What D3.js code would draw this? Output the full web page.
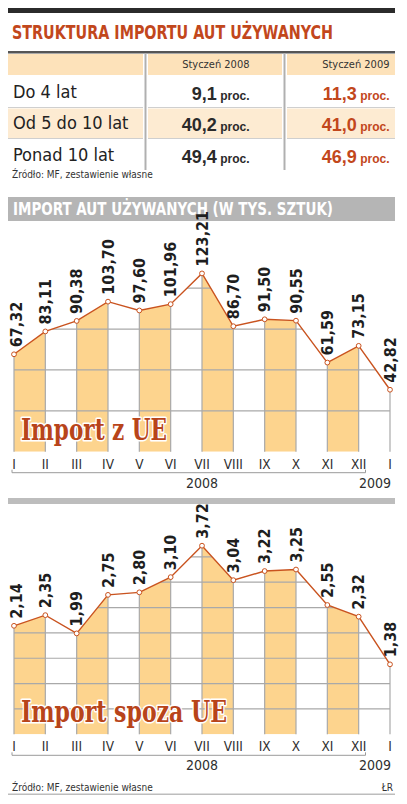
<!DOCTYPE html>
<html><head><meta charset="utf-8">
<script src="https://cdn.jsdelivr.net/npm/d3@7"></script>
<style>body{margin:0;background:#fff}svg{display:block}</style>
</head><body>
<script>
// ---- data ----
const months = ["I","II","III","IV","V","VI","VII","VIII","IX","X","XI","XII","I"];
const euValues = [67.32,83.11,90.38,103.70,97.60,101.96,123.21,86.70,91.50,90.55,61.59,73.15,42.82];
const nonEuValues = [2.14,2.35,1.99,2.75,2.80,3.10,3.72,3.04,3.22,3.25,2.55,2.32,1.38];
const euGrid = [28.25,56.5,84.75,113];
const nonEuGrid = [0.5,1,1.5,2,2.5,3,3.5];
const tableRows = ["Do 4 lat","Od 5 do 10 lat","Ponad 10 lat"];
const tableCols = ["Styczeń 2008","Styczeń 2009"];
const share2008 = ["9,1","40,2","49,4"];
const share2009 = ["11,3","41,0","46,9"];

const W = 407, H = 804;
const NARROW = "'Liberation Sans Narrow','DejaVu Sans Condensed',sans-serif";
const SANS = "'Liberation Sans',Arial,sans-serif";
const SERIF = "'DejaVu Serif Condensed','DejaVu Serif',serif";
const RED = "#c2471c", ORANGE = "#fdd48e", LINE = "#c9531f", GRID = "#a9a9a9";

const svg = d3.select("body").append("svg").attr("width", W).attr("height", H);

// ---- top header ----
svg.append("rect").attr("x",8).attr("y",8).attr("width",387).attr("height",5).attr("fill","#2b2b2b");
svg.append("text").attr("x",12).attr("y",39).text("STRUKTURA IMPORTU AUT UŻYWANYCH")
  .attr("font-family",NARROW).attr("font-weight","bold").attr("font-size",19.5).attr("fill",RED)
  .attr("textLength",321).attr("lengthAdjust","spacingAndGlyphs");

// ---- table ----
const cols = [{x0:8,x1:143},{x0:148,x1:282},{x0:287,x1:395}];
svg.append("rect").attr("x",8).attr("y",51).attr("width",387).attr("height",2.5).attr("fill","#555");
cols.forEach(c=>{
  svg.append("rect").attr("x",c.x0).attr("y",54).attr("width",c.x1-c.x0).attr("height",21).attr("fill","#fde2ba");
  svg.append("rect").attr("x",c.x0).attr("y",108.5).attr("width",c.x1-c.x0).attr("height",29.5).attr("fill","#fdebd2");
  [107.5,138.5].forEach(yy=>svg.append("line").attr("x1",c.x0).attr("x2",c.x1).attr("y1",yy).attr("y2",yy).attr("stroke","#cfcfcf").attr("stroke-width",1));
});
[145.5,284.5].forEach(xx=>svg.append("line").attr("x1",xx).attr("x2",xx).attr("y1",53).attr("y2",170).attr("stroke","#b0b0b0").attr("stroke-width",2));
const colRight = [249.5,389.5];
tableCols.forEach((t,i)=>svg.append("text").attr("x",colRight[i]).attr("y",68).attr("text-anchor","end")
  .attr("font-family",NARROW).attr("font-size",11).attr("fill","#333").text(t));
const rowBase = [97.5,129.3,160.7];
tableRows.forEach((r,i)=>{
  svg.append("text").attr("x",13).attr("y",rowBase[i]).text(r)
    .attr("font-family",NARROW).attr("font-size",18).attr("fill","#222");
  [share2008,share2009].forEach((arr,j)=>{
    const t = svg.append("text").attr("x",colRight[j]).attr("y",rowBase[i]+2).attr("text-anchor","end")
      .attr("font-family",SANS).attr("font-weight","bold").attr("fill", j===0?"#2a2a2a":RED);
    t.append("tspan").attr("font-size",18).text(arr[i]);
    t.append("tspan").attr("font-size",12).text(" proc.");
  });
});
svg.append("text").attr("x",12).attr("y",177.7).text("Źródło: MF, zestawienie własne")
  .attr("font-family",NARROW).attr("font-size",10).attr("fill","#333");

// ---- chart section header ----
svg.append("rect").attr("x",8).attr("y",197).attr("width",387).attr("height",24).attr("fill","#b5b5b5");
svg.append("text").attr("x",13).attr("y",215).text("IMPORT AUT UŻYWANYCH (W TYS. SZTUK)")
  .attr("font-family",NARROW).attr("font-weight","bold").attr("font-size",17).attr("fill","#fff")
  .attr("textLength",320).attr("lengthAdjust","spacingAndGlyphs");

const x = d3.scalePoint().domain(d3.range(months.length)).range([14,390]);

function drawChart(id, values, grid, yMax, base, pxPerUnit, title, titleLen){
  const y = d3.scaleLinear().domain([0,yMax]).range([base, base - yMax*pxPerUnit]);
  const g = svg.append("g");
  const area = d3.area().x((d,i)=>x(i)).y0(base).y1(d=>y(d));
  g.append("clipPath").attr("id",id).append("path").attr("d",area(values));
  const inner = g.append("g").attr("clip-path",`url(#${id})`);
  d3.range(0,values.length-1,2).forEach(i=>{
    inner.append("rect").attr("x",x(i)).attr("width",x(i+1)-x(i))
      .attr("y",y(yMax)).attr("height",base-y(yMax)).attr("fill",ORANGE);
  });
  grid.forEach(v=>inner.append("line").attr("x1",x(0)).attr("x2",x(values.length-1))
    .attr("y1",y(v)).attr("y2",y(v)).attr("stroke",GRID).attr("stroke-width",1.2));
  values.forEach((v,i)=>g.append("line").attr("x1",x(i)).attr("x2",x(i)).attr("y1",base).attr("y2",y(v))
    .attr("stroke",GRID).attr("stroke-width",1.2));
  // big title
  g.append("text").attr("x",21).attr("y",base-12).text(title)
    .attr("font-family",SERIF).attr("font-weight","bold").attr("font-size",29)
    .attr("fill","#b8441a").attr("stroke","#fff").attr("stroke-width",3).attr("paint-order","stroke")
    .attr("stroke-linejoin","round")
    .attr("textLength",titleLen).attr("lengthAdjust","spacingAndGlyphs");
  // line
  g.append("path").attr("d",d3.line().x((d,i)=>x(i)).y(d=>y(d))(values))
    .attr("fill","none").attr("stroke",LINE).attr("stroke-width",1.4);
  g.selectAll("circle.p").data(values).join("circle").attr("cx",(d,i)=>x(i)).attr("cy",d=>y(d))
    .attr("r",2.4).attr("fill","#fff").attr("stroke",LINE).attr("stroke-width",1);
  // value labels
  const fmt = v => v.toFixed(2).replace(".",",");
  values.forEach((v,i)=>{
    const lx = Math.max(x(i),16.5), ly = y(v)-7;
    g.append("text").attr("transform",`translate(${lx},${ly}) rotate(-90)`).attr("dy","0.36em")
      .attr("font-family",NARROW).attr("font-weight","bold").attr("font-size",16).attr("fill","#1e1e1e")
      .text(fmt(v));
  });
  // axis labels
  months.forEach((m,i)=>g.append("text").attr("x",x(i)).attr("y",base+17).attr("text-anchor","middle")
    .attr("font-family",NARROW).attr("font-size",13.5).attr("fill","#2e2e2e").text(m));
  g.append("path").attr("d",`M12,${base+18} V${base+21} H365.5 V${base+18}`)
    .attr("fill","none").attr("stroke","#9a9a9a").attr("stroke-width",1);
  g.append("text").attr("x",x(6)).attr("y",base+36).attr("text-anchor","middle")
    .attr("font-family",NARROW).attr("font-size",14).attr("fill","#2e2e2e").text("2008");
  g.append("text").attr("x",391).attr("y",base+36).attr("text-anchor","end")
    .attr("font-family",NARROW).attr("font-size",14).attr("fill","#2e2e2e").text("2009");
}

drawChart("clipEU", euValues, euGrid, 130, 451.7, 1.447, "Import z UE", 146);
svg.append("rect").attr("x",8).attr("y",498).attr("width",387).attr("height",6).attr("fill","#bdbdbd");
drawChart("clipNonEU", nonEuValues, nonEuGrid, 4, 734.3, 50.7, "Import spoza UE", 206);

// ---- footer ----
svg.append("text").attr("x",12).attr("y",790.5).text("Źródło: MF, zestawienie własne")
  .attr("font-family",NARROW).attr("font-size",10).attr("fill","#333");
svg.append("text").attr("x",393).attr("y",790.5).attr("text-anchor","end").text("ŁR")
  .attr("font-family",NARROW).attr("font-size",10).attr("fill","#333");
svg.append("rect").attr("x",8).attr("y",793.5).attr("width",387).attr("height",1.5).attr("fill","#bdbdbd");
</script>
</body></html>
